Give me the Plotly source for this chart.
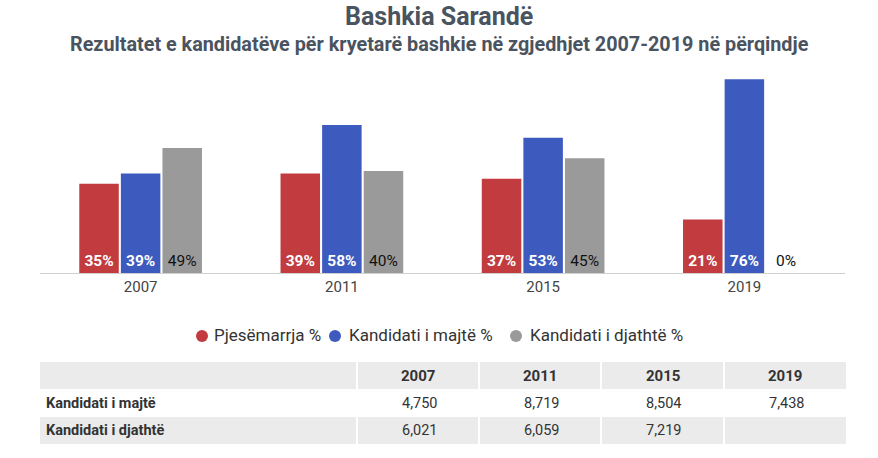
import plotly.graph_objects as go

years = ["2007", "2011", "2015", "2019"]
pjesemarrja = [35, 39, 37, 21]
majte_pct = [39, 58, 53, 76]
djathte_pct = [49, 40, 45, 0]

table_rows = ["Kandidati i majtë", "Kandidati i djathtë"]
majte_votes = [4750, 8719, 8504, 7438]
djathte_votes = [6021, 6059, 7219, None]

RED = "#c23b3e"
BLUE = "#3d5bbf"
GRAY = "#9a9a9a"
ROWGRAY = "#ebebeb"
W, H = 878, 458
FONT = "Roboto"


def py(px):
    return 1 - px / H


def px_x(px):
    return px / W


fig = go.Figure()

series = [
    ("Pjesëmarrja %", pjesemarrja, RED, "white", "bold"),
    ("Kandidati i majtë %", majte_pct, BLUE, "white", "bold"),
    ("Kandidati i djathtë %", djathte_pct, GRAY, "#111111", "normal"),
]

for name, vals, col, tcol, weight in series:
    pos = ["inside" if v > 0 else "outside" for v in vals]
    fig.add_trace(go.Bar(
        x=years, y=vals, name=name, marker=dict(color=col, line=dict(width=0)),
        text=[f"{v}%" for v in vals], textposition=pos,
        insidetextanchor="start", constraintext="none",
        insidetextfont=dict(color=tcol, size=15.5, family=FONT, weight=weight),
        outsidetextfont=dict(color="#111111", size=15.5, family=FONT, weight="normal"),
        showlegend=False, cliponaxis=False,
    ))


def fmt(v):
    return "" if v is None else f"{v:,}"


shapes = []
annotations = []

# ---- table drawn with shapes + text ----
col_edges = [40, 357, 479, 601, 724, 846]
row_edges = [362, 389, 417, 444]
row_fill = [ROWGRAY, "white", ROWGRAY]
for r in range(3):
    for c in range(5):
        if row_fill[r] == "white":
            continue
        shapes.append(dict(type="rect", xref="paper", yref="paper", layer="below",
                           x0=px_x(col_edges[c] + (1 if c > 0 else 0)),
                           x1=px_x(col_edges[c + 1] - (1 if c < 4 else 0)),
                           y0=py(row_edges[r + 1]), y1=py(row_edges[r]),
                           fillcolor=row_fill[r], line=dict(width=0)))

row_mid = [(row_edges[i] + row_edges[i + 1]) / 2 for i in range(3)]
col_mid = [(col_edges[i] + col_edges[i + 1]) / 2 for i in range(5)]
for c, y in enumerate(years):
    annotations.append(dict(text=f"<b>{y}</b>", x=px_x(col_mid[c + 1]), y=py(row_mid[0]),
                            xref="paper", yref="paper", xanchor="center", yanchor="middle",
                            showarrow=False, font=dict(family=FONT, size=15, color="#333333")))
row_values = [majte_votes, djathte_votes]
for r, label in enumerate(table_rows):
    annotations.append(dict(text=f"<b>{label}</b>", x=px_x(col_edges[0] + 4), y=py(row_mid[r + 1]),
                            xref="paper", yref="paper", xanchor="left", yanchor="middle",
                            showarrow=False, font=dict(family=FONT, size=14.5, color="#333333")))
    for c, v in enumerate(row_values[r]):
        annotations.append(dict(text=fmt(v), x=px_x(col_mid[c + 1] + 1), y=py(row_mid[r + 1]),
                                xref="paper", yref="paper", xanchor="center", yanchor="middle",
                                showarrow=False, font=dict(family=FONT, size=14.5, color="#333333")))

# ---- custom legend (circle swatches + labels) ----
legend_items = [(s[0], s[2]) for s in series]
legend_circle_x = [202, 335, 516]
legend_text_x = [212, 347, 528]
LEG_Y = 336
R = 6
for (name, col), cx, tx in zip(legend_items, legend_circle_x, legend_text_x):
    shapes.append(dict(type="circle", xref="paper", yref="paper",
                       x0=px_x(cx - R), x1=px_x(cx + R), y0=py(LEG_Y + R), y1=py(LEG_Y - R),
                       fillcolor=col, line=dict(width=0)))
    annotations.append(dict(text=name, x=px_x(tx), y=py(LEG_Y - 1), xref="paper", yref="paper",
                            xanchor="left", yanchor="middle", showarrow=False,
                            font=dict(family=FONT, size=17, color="#333333")))

annotations += [
    dict(text="<b>Bashkia Sarandë</b>", x=0.5, y=1, xref="paper", yref="paper",
         xanchor="center", yanchor="top", showarrow=False,
         font=dict(family=FONT, size=25, color="#4a5360")),
    dict(text="<b>Rezultatet e kandidatëve për kryetarë bashkie në zgjedhjet 2007-2019 në përqindje</b>",
         x=0.5, y=py(45), xref="paper", yref="paper",
         xanchor="center", yanchor="middle", showarrow=False,
         font=dict(family=FONT, size=19.8, color="#4a5360")),
]

fig.update_layout(
    width=W, height=H, margin=dict(l=0, r=0, t=0, b=0),
    paper_bgcolor="white", plot_bgcolor="white",
    barmode="group", bargap=0.38, bargroupgap=0.05,
    font=dict(family=FONT, color="#444444"),
    showlegend=False,
    xaxis=dict(domain=[px_x(40), px_x(845)], showline=True, linecolor="#d0d0d0",
               linewidth=1, ticks="", tickfont=dict(size=15, color="#444444", family=FONT),
               showgrid=False, fixedrange=True),
    yaxis=dict(domain=[py(273), py(69)], range=[0, 80], visible=False,
               showgrid=False, zeroline=False, fixedrange=True),
    shapes=shapes,
    annotations=annotations,
)

fig.write_html("out.html")
